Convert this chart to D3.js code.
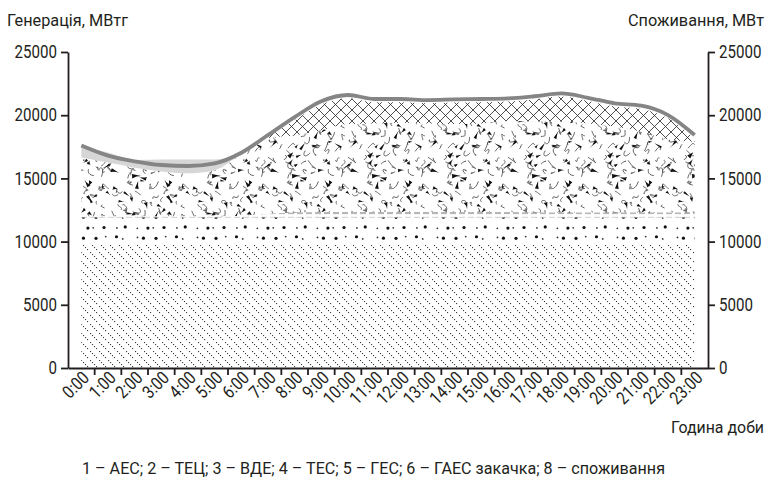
<!DOCTYPE html>
<html>
<head>
<meta charset="utf-8">
<script src="https://cdn.jsdelivr.net/npm/d3@7/dist/d3.min.js"></script>
<style>
  body { margin: 0; background: #fff; }
  text { font-family: Roboto, "Noto Sans", sans-serif; fill: #231f20; }
</style>
</head>
<body>
<svg id="chart" width="770" height="481"></svg>
<script>
const hours = ['0:00','1:00','2:00','3:00','4:00','5:00','6:00','7:00','8:00','9:00','10:00','11:00',
  '12:00','13:00','14:00','15:00','16:00','17:00','18:00','19:00','20:00','21:00','22:00','23:00'];

// generation by source, MW
const aes  = [9750,9750,9750,9750,9750,9750,9750,9750,9750,9750,9750,9750,9750,9750,9750,9750,9750,9750,9750,9750,9750,9750,9750,9750];
const tec  = [2150,2150,2150,2150,2150,2150,2150,2150,2150,2150,2150,2150,2150,2150,2150,2150,2150,2150,2150,2150,2150,2150,2150,2150];
const vde  = [100,100,100,100,100,100,150,300,400,450,450,450,450,450,450,450,450,400,400,400,400,400,400,400];
const tes  = [4650,4250,3850,3550,3400,3650,4850,6000,6100,6450,6950,7000,7050,7000,6950,7000,7200,7200,7200,7050,6800,6400,5800,5600];
const ges  = [0,0,0,0,0,0,50,100,1200,2050,2050,1680,1630,1600,1700,1680,1530,1750,1970,1780,1590,1800,1660,280];
const gaes = [900,800,600,950,1100,850,100,0,0,0,0,0,0,0,0,0,0,0,0,0,0,0,0,0];
// consumption, MW
const consumption = [17600,16800,16350,16060,15980,16190,17030,18430,19850,21100,21600,21280,21280,21200,21250,21280,21330,21500,21720,21380,20940,20750,20010,18430];

const yTicks = [0, 5000, 10000, 15000, 20000, 25000];
const keys = ['aes', 'tec', 'vde', 'tes', 'ges', 'gaes'];

const rows = hours.map((h, i) => ({
  hour: h, aes: aes[i], tec: tec[i], vde: vde[i], tes: tes[i], ges: ges[i], gaes: gaes[i]
}));

const svg = d3.select('#chart');
const plotLeft = 68, plotRight = 708, plotTop = 52, plotBottom = 368;
const ink = '#231f20';
const squeeze = 0.84; // fake a condensed face

const x = d3.scaleBand().domain(hours).range([plotLeft, plotRight]);
const cx = h => x(h) + x.bandwidth() / 2;
const y = d3.scaleLinear().domain([0, 25000]).range([plotBottom, plotTop]);

// ---- patterns ----
const defs = svg.append('defs');
const rnd = d3.randomLcg(0.58);

// 1: dotted diagonal hatch
const pAes = defs.append('pattern').attr('id', 'p-aes')
  .attr('patternUnits', 'userSpaceOnUse').attr('width', 9).attr('height', 9);
[0, 2, 4, 6].forEach(d => {
  pAes.append('rect').attr('x', d).attr('y', d).attr('width', 1.1).attr('height', 1.1).attr('fill', '#3a3a3a');
});

// 2: scattered dots in loose rows
const pTec = defs.append('pattern').attr('id', 'p-tec')
  .attr('patternUnits', 'userSpaceOnUse').attr('width', 60).attr('height', 21).attr('y', 2);
[5, 15.5].forEach(rowY => {
  for (let k = 0; k < 6; k++) {
    const big = rnd() < 0.4;
    pTec.append('circle')
      .attr('cx', k * 10 + 2 + rnd() * 6).attr('cy', rowY + (rnd() - 0.5) * 3)
      .attr('r', big ? 1.6 : 0.9).attr('fill', big ? '#111' : '#333');
  }
});

// 3: horizontal dashes
const pVde = defs.append('pattern').attr('id', 'p-vde')
  .attr('patternUnits', 'userSpaceOnUse').attr('width', 9).attr('height', 5)
  .attr('y', 0.5);
pVde.append('line').attr('x1', 0).attr('x2', 6).attr('y1', 2.5).attr('y2', 2.5)
  .attr('stroke', '#808080').attr('stroke-width', 1.3);

// 4: black slivers and thin curls on a jittered grid, wrapped so the tile has no seams
const TW = 80, TH = 80, cell = 10;
const pTes = defs.append('pattern').attr('id', 'p-tes')
  .attr('patternUnits', 'userSpaceOnUse').attr('width', TW).attr('height', TH);
const curls = [], slivers = [];
const addSliver = (gx, gy) => {
  const px = gx + rnd() * cell, py = gy + rnd() * cell;
  const a = rnd() * Math.PI * 2;
  const len = 4 + rnd() * 6, w = 0.9 + rnd() * 1.3, bend = (rnd() - 0.5) * 4;
  const tx = px + Math.cos(a) * len, ty = py + Math.sin(a) * len;
  const nx = -Math.sin(a) * w, ny = Math.cos(a) * w;
  const mx = (px + tx) / 2 + nx * bend / 2, my = (py + ty) / 2 + ny * bend / 2;
  slivers.push(`M${px + nx},${py + ny}Q${mx},${my} ${tx},${ty}L${px - nx},${py - ny}Z`);
};
for (let gx = 0; gx < TW; gx += cell) {
  for (let gy = 0; gy < TH; gy += cell) {
    const px = gx + rnd() * cell, py = gy + rnd() * cell;
    const c1x = px + (rnd() - 0.5) * 12, c1y = py + (rnd() - 0.5) * 12;
    const c2x = px + (rnd() - 0.5) * 16, c2y = py + (rnd() - 0.5) * 16;
    const ex = px + (rnd() - 0.5) * 14, ey = py + (rnd() - 0.5) * 14;
    curls.push(`M${px},${py}C${c1x},${c1y} ${c2x},${c2y} ${ex},${ey}`);
    if (rnd() < 0.6) addSliver(gx, gy);
  }
}
[-TW, 0, TW].forEach(dx => [-TH, 0, TH].forEach(dy => {
  const g = pTes.append('g').attr('transform', `translate(${dx},${dy})`);
  curls.forEach(d => g.append('path').attr('d', d)
    .attr('fill', 'none').attr('stroke', '#333').attr('stroke-width', 0.75));
  slivers.forEach(d => g.append('path').attr('d', d).attr('fill', '#111'));
}));

// 5: cross hatch
const pGes = defs.append('pattern').attr('id', 'p-ges')
  .attr('patternUnits', 'userSpaceOnUse').attr('width', 11).attr('height', 11);
pGes.append('path').attr('d', 'M0,0L11,11M11,0L0,11')
  .attr('stroke', '#222').attr('stroke-width', 0.8).attr('fill', 'none');

const fills = {
  aes: 'url(#p-aes)', tec: 'url(#p-tec)', vde: 'url(#p-vde)',
  tes: 'url(#p-tes)', ges: 'url(#p-ges)', gaes: '#d6d6d6'
};

// ---- stacked areas ----
const series = d3.stack().keys(keys)(rows);
const area = d3.area()
  .x(d => cx(d.data.hour))
  .y0(d => y(d[0]))
  .y1(d => y(d[1]))
  .curve(d3.curveMonotoneX);

svg.append('g').selectAll('path')
  .data(series)
  .enter().append('path')
  .attr('fill', d => fills[d.key])
  .attr('d', area);

// consumption line
const line = d3.line()
  .x((d, i) => cx(hours[i]))
  .y(d => y(d))
  .curve(d3.curveMonotoneX);

svg.append('path')
  .datum(consumption)
  .attr('fill', 'none')
  .attr('stroke', '#858585')
  .attr('stroke-width', 3.8)
  .attr('stroke-linejoin', 'round')
  .attr('d', line);

// ---- axes ----
const styleAxis = g => {
  g.selectAll('path, line').attr('stroke', ink).attr('stroke-width', 1.8);
  g.selectAll('text').style('font-size', '18px').attr('fill', ink);
};

svg.append('g')
  .attr('transform', `translate(${plotLeft},0)`)
  .call(d3.axisLeft(y).tickValues(yTicks).tickSize(7).tickSizeOuter(0).tickFormat(d3.format('d')))
  .call(styleAxis)
  .selectAll('.tick text')
  .attr('x', 0).attr('transform', `translate(-11,0) scale(${squeeze},1)`);

svg.append('g')
  .attr('transform', `translate(${plotRight},0)`)
  .call(d3.axisRight(y).tickValues(yTicks).tickSize(7).tickSizeOuter(0).tickFormat(d3.format('d')))
  .call(styleAxis)
  .selectAll('.tick text')
  .attr('x', 0).attr('transform', `translate(11,0) scale(${squeeze},1)`);

const xAxis = svg.append('g')
  .attr('transform', `translate(0,${plotBottom})`)
  .call(d3.axisBottom(x).tickSize(0).tickSizeOuter(0))
  .call(styleAxis);

xAxis.selectAll('.tick text')
  .attr('x', 0).attr('y', 0).attr('dy', 0)
  .attr('transform', `translate(9,11) rotate(-45) scale(${squeeze},1)`)
  .style('text-anchor', 'end');

// tick marks between hours
xAxis.selectAll('.sep')
  .data(hours.slice(1))
  .enter().append('line')
  .attr('class', 'sep')
  .attr('x1', d => x(d)).attr('x2', d => x(d))
  .attr('y1', 0).attr('y2', 7)
  .attr('stroke', ink).attr('stroke-width', 1.8);

// ---- titles ----
const label = (tx, ty, str, width, anchor) => svg.append('text')
  .attr('x', tx).attr('y', ty)
  .attr('text-anchor', anchor)
  .attr('textLength', width).attr('lengthAdjust', 'spacingAndGlyphs')
  .style('font-size', '17px')
  .text(str);

label(7, 26, 'Генерація, МВтг', 121, 'start');
label(764, 26, 'Споживання, МВт', 136, 'end');
label(764, 433, 'Година доби', 93, 'end');
label(82, 474, '1 – АЕС; 2 – ТЕЦ; 3 – ВДЕ; 4 – ТЕС; 5 – ГЕС; 6 – ГАЕС закачка; 8 – споживання', 583, 'start');
</script>
</body>
</html>
